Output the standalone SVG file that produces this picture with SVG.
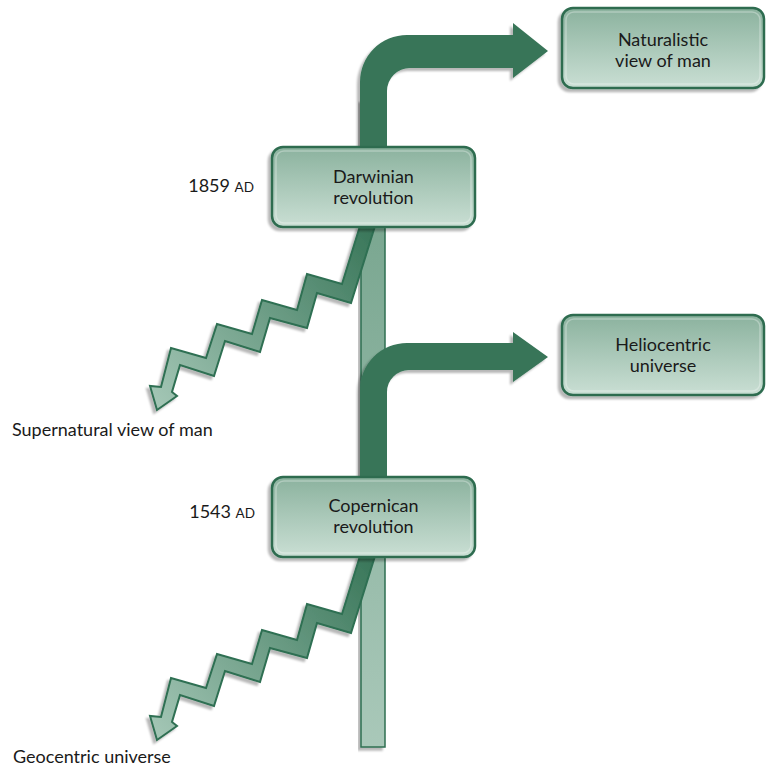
<svg xmlns="http://www.w3.org/2000/svg" width="768" height="768" viewBox="0 0 768 768">
  <defs>
    <style>
      text { font-family: "Lato", "Open Sans", "Liberation Sans", sans-serif; fill: #1a1a1a; }
      .lbl { font-size: 18px; }
      .sc { font-size: 13.5px; }
      .box { fill: url(#boxGrad); stroke: #2d6c50; stroke-width: 2.5; }
      .hl { fill: none; stroke: #ffffff; stroke-opacity: 0.3; stroke-width: 1.5; }
      .dark { fill: #387558; }
      .zig { fill: url(#zigGrad); stroke: #2f6f52; stroke-width: 2; stroke-linejoin: miter; }
      .bar { fill: url(#barGrad); stroke: #2f6f52; stroke-width: 1.5; }
    </style>
    <linearGradient id="boxGrad" x1="0" y1="0" x2="0" y2="1">
      <stop offset="0" stop-color="#8bb29e"/>
      <stop offset="1" stop-color="#cadfd4"/>
    </linearGradient>
    <linearGradient id="zigGrad" gradientUnits="userSpaceOnUse" x1="372" y1="232" x2="160" y2="405">
      <stop offset="0" stop-color="#3a775a"/>
      <stop offset="1" stop-color="#a2c5b4"/>
    </linearGradient>
    <linearGradient id="barGrad" gradientUnits="userSpaceOnUse" x1="0" y1="100" x2="0" y2="747">
      <stop offset="0" stop-color="#6f9f87"/>
      <stop offset="1" stop-color="#a9c8b9"/>
    </linearGradient>
    <filter id="shadow" x="-10%" y="-10%" width="120%" height="120%">
      <feGaussianBlur in="SourceAlpha" stdDeviation="1.2"/>
      <feOffset dx="-3" dy="3" result="b"/>
      <feFlood flood-color="#000000" flood-opacity="0.28"/>
      <feComposite in2="b" operator="in"/>
      <feMerge>
        <feMergeNode/>
        <feMergeNode in="SourceGraphic"/>
      </feMerge>
    </filter>
  </defs>

  <g id="connectors">
    <rect id="timeline" class="bar" x="361" y="100" width="24" height="647" filter="url(#shadow)"/>
    <path id="arrow-naturalistic" class="dark" filter="url(#shadow)" d="M360,150 L360,82 A47,47 0 0 1 407,35 L513,35 L513,23 L548,51 L513,78 L513,68 L410,68 A23,23 0 0 0 387,91 L387,150 Z"/>
    <path id="arrow-heliocentric" class="dark" filter="url(#shadow)" d="M360,480 L360,390 A47,47 0 0 1 407,343 L513,343 L513,332 L548,357 L513,382 L513,370 L409,370 A22,22 0 0 0 387,392 L387,480 Z"/>
    <polygon id="zig-supernatural" class="zig" filter="url(#shadow)" points="360,226 342,284 307,274 297,310 262,300 252,334 217,324 206,358 171,348 161,387 150,386 157,410 177,396 172,392 180,365 214,376 225,341 260,352 270,318 307,328 317,293 351,303 375,226"/>
    <polygon id="zig-geocentric" class="zig" filter="url(#shadow)" transform="translate(0,330)" points="360,226 342,284 307,274 297,310 262,300 252,334 217,324 206,358 171,348 161,387 150,386 157,410 177,396 172,392 180,365 214,376 225,341 260,352 270,318 307,328 317,293 351,303 375,226"/>
  </g>

  <g id="node-naturalistic">
    <rect class="box" x="562" y="8" width="202" height="80" rx="11" filter="url(#shadow)"/>
    <rect class="hl" x="566" y="12" width="194" height="72" rx="8"/>
    <text class="lbl" x="663" y="46" text-anchor="middle">Naturalistic</text>
    <text class="lbl" x="663" y="67" text-anchor="middle">view of man</text>
  </g>

  <g id="node-heliocentric">
    <rect class="box" x="562" y="315" width="202" height="80" rx="11" filter="url(#shadow)"/>
    <rect class="hl" x="566" y="319" width="194" height="72" rx="8"/>
    <text class="lbl" x="663" y="351" text-anchor="middle">Heliocentric</text>
    <text class="lbl" x="663" y="372" text-anchor="middle">universe</text>
  </g>

  <g id="node-darwinian">
    <rect class="box" x="272" y="147" width="203" height="80" rx="11" filter="url(#shadow)"/>
    <rect class="hl" x="276" y="151" width="195" height="72" rx="8"/>
    <text class="lbl" x="373.5" y="183" text-anchor="middle">Darwinian</text>
    <text class="lbl" x="373.5" y="204" text-anchor="middle">revolution</text>
  </g>

  <g id="node-copernican">
    <rect class="box" x="272" y="477" width="203" height="80" rx="11" filter="url(#shadow)"/>
    <rect class="hl" x="276" y="481" width="195" height="72" rx="8"/>
    <text class="lbl" x="373.5" y="512" text-anchor="middle">Copernican</text>
    <text class="lbl" x="373.5" y="533" text-anchor="middle">revolution</text>
  </g>

  <g id="labels">
    <text class="lbl" x="254" y="192" text-anchor="end">1859 <tspan class="sc">AD</tspan></text>
    <text class="lbl" x="255" y="518" text-anchor="end">1543 <tspan class="sc">AD</tspan></text>
    <text id="node-supernatural" class="lbl" x="12" y="436">Supernatural view of man</text>
    <text id="node-geocentric" class="lbl" x="13" y="763">Geocentric universe</text>
  </g>
</svg>
